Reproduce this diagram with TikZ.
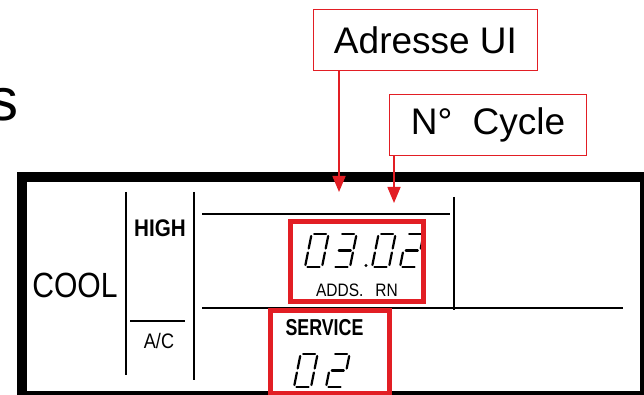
\documentclass[tikz,border=0pt]{standalone}
\usepackage{fontspec}
\setmainfont{Liberation Sans}
\newfontfamily\lcdfont[FakeStretch=0.86]{Liberation Sans}
\usetikzlibrary{arrows.meta,positioning}
\definecolor{tag_red}{RGB}{226,30,36}

% segments of one lcd digit, origin at its bottom left
\newcommand{\segA}{\draw[lcdseg] (2.5,-33)--(14.5,-33);}
\newcommand{\segB}{\draw[lcdseg] (17,-31)--(17,-18.5);}
\newcommand{\segC}{\draw[lcdseg] (17,-14.5)--(17,-2);}
\newcommand{\segD}{\draw[lcdseg] (2.5,0)--(14.5,0);}
\newcommand{\segE}{\draw[lcdseg] (0,-14.5)--(0,-2);}
\newcommand{\segF}{\draw[lcdseg] (0,-31)--(0,-18.5);}
\newcommand{\segG}{\draw[lcdseg] (2.5,-16.5)--(14.5,-16.5);}
\newcommand{\lcdzero}{\segA\segB\segC\segD\segE\segF}
\newcommand{\lcdthree}{\segA\segB\segC\segD\segG}
\newcommand{\lcdtwo}{\segA\segB\segG\segE\segD}

\begin{document}
\begin{tikzpicture}[x=1pt,y=-1pt,
    lcdseg/.style={line width=2.2pt,line cap=round},
    tagbox/.style={draw=tag_red,line width=1.5pt,inner sep=0pt,font=\fontsize{37}{40}\selectfont},
    tagarrow/.style={tag_red,line width=1.5pt,-{Triangle[length=16pt,width=13pt]}},
    redbox/.style={tag_red,line width=5pt},
    lcdline/.style={line width=1.5pt}]
  \useasboundingbox (0,0) rectangle (644,395);
  \node[anchor=base east,inner sep=0pt,font=\fontsize{60}{60}\selectfont] (word) at (19,121) {s};
  % display frame
  \draw[line width=10pt] (22,177.5) rectangle (645,396);
  \draw[lcdline] (126,192)--(126,375);
  \draw[lcdline] (194,192)--(194,380);
  \draw[lcdline] (130,321)--(185,321);
  \draw[lcdline] (202,214)--(450,214);
  \draw[lcdline] (454,197)--(454,310);
  \draw[lcdline] (202,308)--(623,308);
  \node[font=\lcdfont\fontsize{35}{40}\selectfont] (cool) at (75,285) {COOL};
  \node[font=\lcdfont\bfseries\fontsize{24}{26}\selectfont] (high) at (160,228.5) {HIGH};
  \node[font=\lcdfont\fontsize{21}{24}\selectfont] (ac) at (159,340.5) {A/C};
  \node[font=\lcdfont\fontsize{18}{20}\selectfont] (adds) at (357,290) {ADDS.\hspace{12pt}RN};
  \node[font=\lcdfont\bfseries\fontsize{23}{25}\selectfont,xscale=0.9,transform shape] (service) at (324.5,328) {SERVICE};
  % digits 03.02 and 02
  \begin{scope}[shift={(305,267)},xslant=0.2] \lcdzero \end{scope}
  \begin{scope}[shift={(333,267)},xslant=0.2] \lcdthree \end{scope}
  \fill (366,265.5) circle (1.6);
  \begin{scope}[shift={(372,267)},xslant=0.2] \lcdzero \end{scope}
  \begin{scope}[shift={(400,267)},xslant=0.2] \lcdtwo \end{scope}
  \begin{scope}[shift={(294,387)},xslant=0.2] \lcdzero \end{scope}
  \begin{scope}[shift={(326,387)},xslant=0.2] \lcdtwo \end{scope}
  \draw[redbox] (290.5,221.5) rectangle (423.5,301.5);
  \draw[redbox] (270.5,310.5) rectangle (389.5,393);
  % labels with arrows
  \node[tagbox,minimum width=224pt,minimum height=61pt] (adresse) at (425.5,40) {Adresse UI};
  \node[tagbox,minimum width=197pt,minimum height=61pt] (cycle) at (488,125) {N°\hspace{0.55em}Cycle};
  \coordinate (adrtip) at (339,192);
  \coordinate (cyctip) at (394,203);
  \draw[tagarrow] (adresse.south -| adrtip) -- (adrtip);
  \draw[tagarrow] (cycle.south -| cyctip) -- (cyctip);
\end{tikzpicture}
\end{document}
